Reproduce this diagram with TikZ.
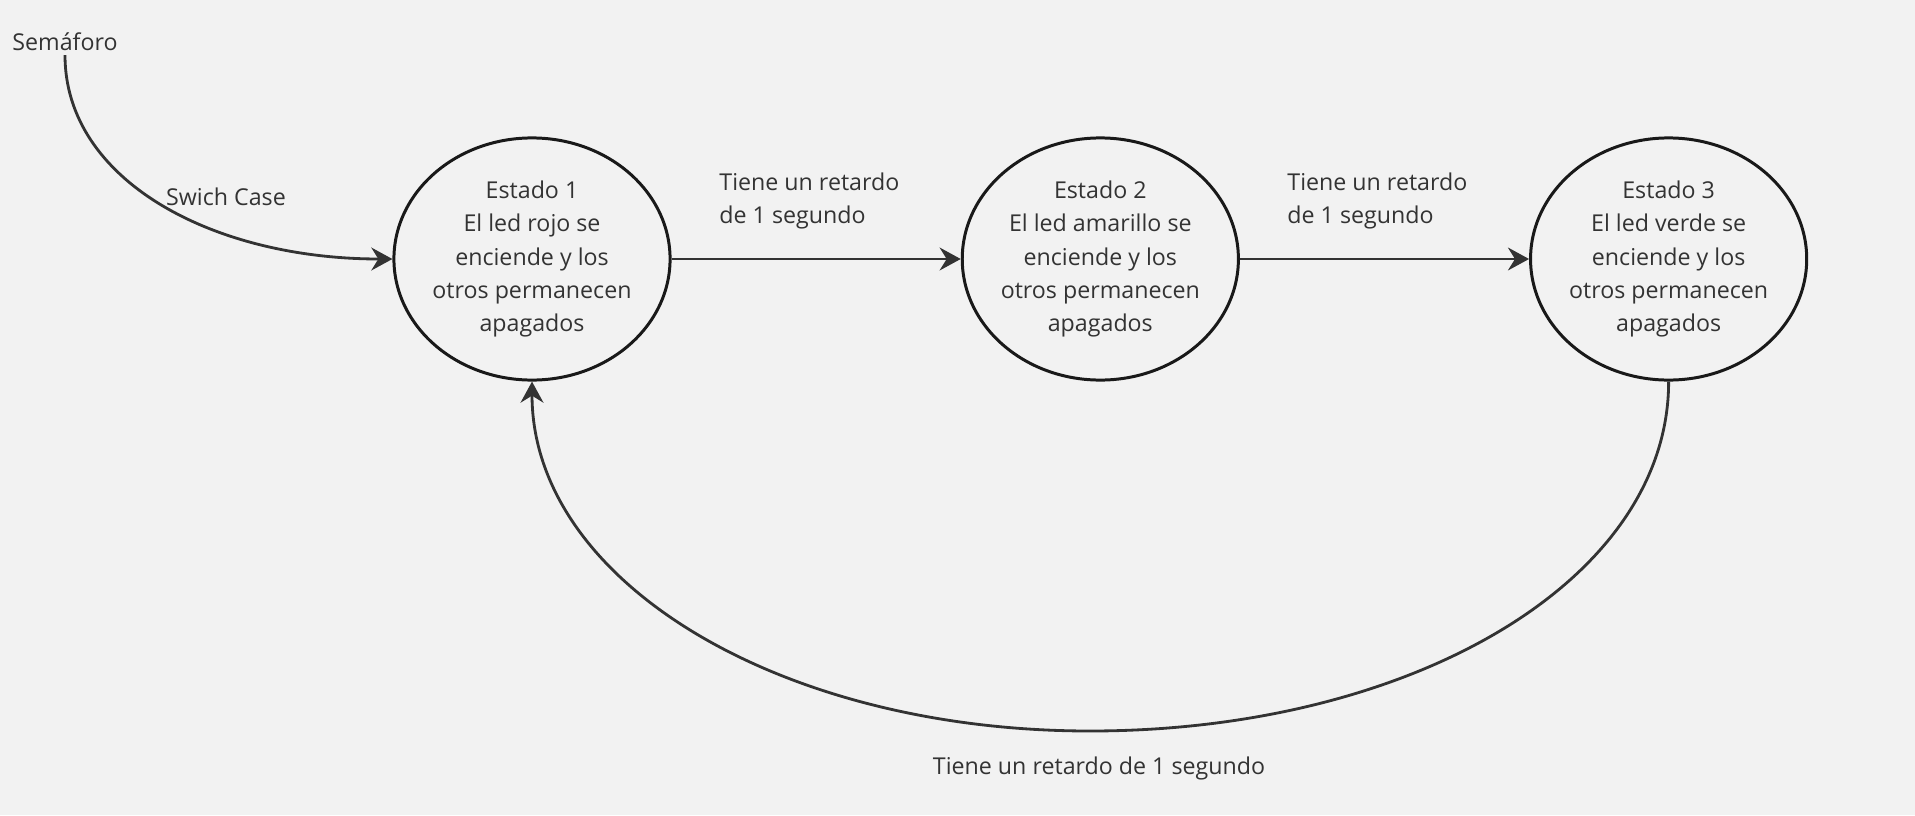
\documentclass[tikz,border=0pt]{standalone}
\usepackage{fontspec}
\setmainfont{Open Sans}
\usetikzlibrary{arrows.meta,positioning,shapes.geometric}
\definecolor{fondo}{HTML}{F2F2F2}
\definecolor{tinta}{HTML}{333333}

\begin{document}
\begin{tikzpicture}[x=0.01cm, y=-0.01cm, node distance=2.89cm,
		every node/.style={font=\fontsize{6.6}{9.45}\selectfont, text=tinta},
		estado/.style={draw=black!90, ellipse, line width=0.85pt, minimum width=2.76cm, minimum height=2.42cm, inner xsep=-2pt, inner ysep=0pt, align=center},
		flecha/.style={draw=tinta, line width=0.8pt, -{Stealth[length=6pt,width=6.5pt,inset=2pt]}}]
	\fill[fondo] (0,0) rectangle (1915,815);
	\useasboundingbox (0,0) rectangle (1915,815);
	\node[inner sep=1pt] (sem) at (65,42) {Semáforo};
	\node[estado] (e1) at (532,259) {Estado 1\\El led rojo se\\enciende y los\\otros permanecen\\apagados};
	\node[estado, right=of e1] (e2) {Estado 2\\El led amarillo se\\enciende y los\\otros permanecen\\apagados};
	\node[estado, right=of e2] (e3) {Estado 3\\El led verde se\\enciende y los\\otros permanecen\\apagados};
	\coordinate (fondoarco) at (1090,731);
	% conexiones
	\draw[flecha] (sem.south) .. controls +(0,125) and +(-180,0) .. (e1.west);
	\node (swc) at (226,197) {Swich Case};
	\draw[flecha] (e1) -- (e2);
	\draw[flecha] (e2) -- (e3);
	\draw[flecha] (e3.south) .. controls +(0,200) and +(320,0) .. (fondoarco)
		.. controls +(-310,0) and +(0,200) .. (e1.south);
	\node[anchor=west, align=left] (t1) at (707,201) {Tiene un retardo\\de 1 segundo};
	\node[anchor=west, align=left] (t2) at (1275,201) {Tiene un retardo\\de 1 segundo};
	\node (t3) at (1099,768) {Tiene un retardo de 1 segundo};
\end{tikzpicture}
\end{document}
